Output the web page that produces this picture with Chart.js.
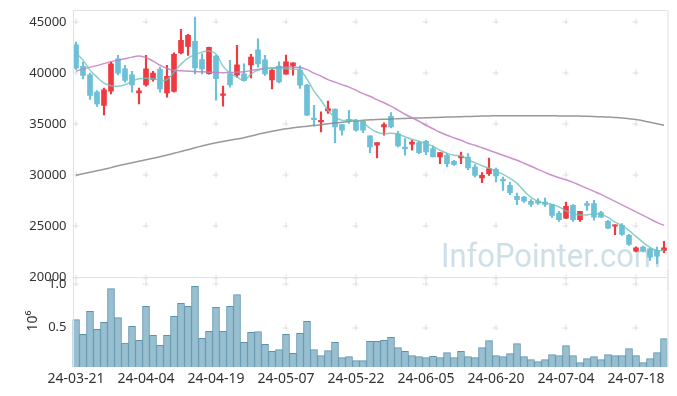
<!DOCTYPE html>
<html><head><meta charset="utf-8">
<script src="https://cdn.jsdelivr.net/npm/chart.js@4.4.1/dist/chart.umd.min.js"></script>
<style>
html,body{margin:0;padding:0;background:#fff;}
#wrap{position:relative;width:677px;height:396px;overflow:hidden;}
#c1{position:absolute;left:0;top:0;}
#c2{position:absolute;left:0;top:270px;}
</style></head>
<body><div id="wrap"><canvas id="c1" width="677" height="290"></canvas><canvas id="c2" width="677" height="126"></canvas></div>
<script>
const dates = ['24-03-21','24-03-22','24-03-25','24-03-26','24-03-27','24-03-28','24-03-29','24-04-01','24-04-02','24-04-03',
'24-04-04','24-04-05','24-04-08','24-04-09','24-04-11','24-04-12','24-04-15','24-04-16','24-04-17','24-04-18',
'24-04-19','24-04-22','24-04-23','24-04-24','24-04-25','24-04-26','24-04-29','24-04-30','24-05-02','24-05-03',
'24-05-07','24-05-08','24-05-09','24-05-10','24-05-13','24-05-14','24-05-16','24-05-17','24-05-20','24-05-21',
'24-05-22','24-05-23','24-05-24','24-05-27','24-05-28','24-05-29','24-05-30','24-05-31','24-06-03','24-06-04',
'24-06-05','24-06-07','24-06-10','24-06-11','24-06-12','24-06-13','24-06-14','24-06-17','24-06-18','24-06-19',
'24-06-20','24-06-21','24-06-24','24-06-25','24-06-26','24-06-27','24-06-28','24-07-01','24-07-02','24-07-03',
'24-07-04','24-07-05','24-07-08','24-07-09','24-07-10','24-07-11','24-07-12','24-07-15','24-07-16','24-07-17',
'24-07-18','24-07-19','24-07-22','24-07-23','24-07-24'];

const openP = [42770,40660,39830,38140,36833,38235,41402,40420,39830,38069,
38853,39383,40363,38069,38206,41990,42618,43108,41333,39950,
41667,37814,39931,39833,39931,40814,42285,41304,39343,40686,
39902,40716,40294,38824,35600,35225,36304,36471,34970,35490,
35392,35294,33853,32941,34735,35784,34088,32775,33039,33206,
33333,32618,31794,31961,31373,31696,31794,30814,29735,30167,
30588,29608,29020,27941,27873,27451,27480,27382,27128,26304,
25814,27059,25657,27225,27225,26343,25490,25029,25098,24118,
22578,22971,22814,22647,22647];

const highP = [43040,41080,40000,38300,38530,41078,41735,40755,40167,38530,
41735,40167,40588,40755,41990,44284,43794,45490,41892,42550,
41765,38725,41245,42716,40900,41833,43363,41735,40422,41108,
41765,41010,40716,38900,36860,36206,37255,36471,34970,36373,
35490,35294,33853,33206,35128,36147,34314,33598,33431,33333,
33431,32873,32225,32128,31471,32284,32128,31049,30265,31696,
30716,29833,29343,28265,27941,27618,27716,27775,27157,26471,
27382,27128,26471,27451,27549,26471,25588,25167,25265,24216,
22990,23069,22880,22971,23529];

const lowP = [40360,39440,37420,36735,35910,37970,39833,39120,38137,36990,
38725,39216,38137,37647,38137,41892,41735,39931,39931,39900,
37353,36765,38627,39608,39216,39540,40588,39775,38461,39049,
39902,39804,38500,35850,34830,34245,36049,33206,33922,35069,
34314,34186,32225,31696,33922,34637,32775,31961,32451,32128,
32030,31794,31147,30814,30980,31147,30559,29833,29284,30000,
29343,28529,28108,27128,27353,26961,27157,26961,25882,25490,
25755,25490,25490,26569,25618,25912,24775,24186,24118,23137,
22500,22500,21667,21343,22422];

const closeP = [40490,39775,37815,36990,38363,40912,40000,39285,38853,38265,
40422,40000,38461,39677,41833,43206,43696,40520,40422,42530,
39461,37970,38853,40814,39285,41569,40912,39931,40265,39147,
41108,41010,38824,35882,35450,35392,36539,34735,34412,35324,
34412,34412,32775,33206,34970,34735,32873,32618,33265,32225,
32284,31794,32225,31147,31049,31892,30716,30000,30000,30657,
29931,29441,28304,27618,27480,27157,27284,27157,26078,25657,
26961,25657,26471,27059,25912,25912,24833,25167,24216,23235,
22912,22578,21990,22088,22912];

const ma5 = [41961,41275,40294,39608,39020,38775,38725,38872,39216,39461,
39510,39461,39314,39363,40098,40882,41471,41814,42059,42157,
41863,40686,40000,39608,39314,39902,40294,40441,40441,40441,
40441,40392,40294,39412,38235,37353,36373,35686,35392,35392,
35392,35196,34608,34216,34069,34118,34020,33775,33529,33333,
33088,32843,32451,32157,31961,31912,31520,31225,30931,30686,
30392,30098,29706,29216,28480,27843,27451,27284,27157,26912,
26520,26275,26128,26128,26226,26176,25882,25422,25098,24608,
24020,23431,22941,22647,22647];

const ma20 = [40196,40392,40588,40735,40931,41127,41275,41402,41569,41667,
41520,41177,40784,40461,40294,40225,40196,40167,40127,40098,
40069,40049,40069,40098,40147,40245,40363,40461,40520,40559,
40588,40588,40559,40343,40000,39706,39363,39118,38873,38627,
38333,37990,37745,37402,37108,36765,36373,35980,35637,35294,
34902,34559,34216,33922,33676,33431,33137,32941,32696,32451,
32206,31961,31716,31471,31177,30882,30588,30294,30000,29755,
29559,29314,29020,28725,28431,28137,27794,27451,27108,26765,
26422,26078,25735,25392,25098];

const ma120 = [30000,30147,30294,30441,30588,30755,30931,31078,31225,31373,
31520,31667,31814,31980,32157,32333,32510,32696,32873,33039,
33186,33314,33431,33549,33686,33843,34020,34167,34314,34431,
34549,34647,34735,34804,34882,34951,35049,35118,35196,35275,
35343,35392,35441,35471,35490,35510,35539,35559,35588,35608,
35627,35657,35676,35696,35716,35735,35755,35775,35794,35814,
35824,35833,35833,35833,35833,35833,35833,35824,35824,35814,
35814,35804,35794,35784,35765,35735,35696,35657,35608,35539,
35461,35343,35196,35049,34902];

const volume = [592000,424000,687000,481000,561000,947000,615000,324000,515000,355000,
745000,412000,298000,412000,630000,779000,745000,974000,378000,458000,
733000,458000,745000,878000,332000,447000,455000,309000,229000,248000,
424000,206000,435000,573000,248000,180000,237000,332000,157000,168000,
122000,122000,344000,344000,355000,389000,271000,229000,180000,168000,
157000,172000,157000,214000,157000,229000,168000,157000,271000,351000,
180000,168000,202000,317000,168000,134000,111000,134000,191000,180000,
294000,180000,100000,145000,168000,134000,191000,180000,180000,260000,
180000,100000,145000,214000,374000];

const priceTicks = [20000,25000,30000,35000,40000,45000];
const volTicks = [500000,1000000];
const volTitle = '10⁶';
const watermark = 'InfoPointer.com';

const UP = '#ee3a40', DOWN = '#6cc0d8';
const candleColors = closeP.map((c,i)=> c >= openP[i] ? UP : DOWN);
const wicks = dates.map((d,i)=>[lowP[i], highP[i]]);
const bodies = dates.map((d,i)=>[Math.min(openP[i],closeP[i]), Math.max(openP[i],closeP[i])]);

const FONT = 'Noto Sans';
const LEFT_W = 72.5;
const PAD_R = 9.5;

function fixAxis(s){ s.width = LEFT_W; s.paddingTop = 0; s.paddingBottom = 0; s.paddingLeft = 0; s.paddingRight = 0; }

function plus(ctx, x, y){
  ctx.beginPath();
  ctx.moveTo(x-3, y+0.5); ctx.lineTo(x+3, y+0.5);
  ctx.moveTo(x+0.5, y-3); ctx.lineTo(x+0.5, y+3);
  ctx.stroke();
}

const frame1 = {
  id:'frame1',
  beforeDatasetsDraw(chart){
    const {ctx, chartArea:a, scales:{x,y}} = chart;
    ctx.save();
    ctx.font = '33px Roboto';
    ctx.fillStyle = 'rgba(165,196,214,0.55)';
    ctx.textBaseline = 'alphabetic';
    ctx.fillText(watermark, 441, 267, 220);
    ctx.strokeStyle = '#dedede';
    ctx.lineWidth = 1;
    for (let i=0;i<dates.length;i+=10){
      const px = Math.round(x.getPixelForValue(i))-0.5;
      priceTicks.forEach(t=>plus(ctx, px, Math.round(y.getPixelForValue(t))-0.5));
    }
    ctx.restore();
  },
  afterDraw(chart){
    const {ctx, chartArea:a} = chart;
    ctx.save();
    ctx.strokeStyle = '#e2e2e2';
    ctx.lineWidth = 1;
    ctx.beginPath();
    ctx.moveTo(a.left, a.top+0.5); ctx.lineTo(a.right, a.top+0.5);
    ctx.moveTo(a.right+0.5, a.top); ctx.lineTo(a.right+0.5, 290);
    ctx.moveTo(73.5, a.top); ctx.lineTo(73.5, 290);
    ctx.moveTo(a.left, a.bottom); ctx.lineTo(a.right, a.bottom);
    ctx.stroke();
    ctx.restore();
  }
};

const frame2 = {
  id:'frame2',
  beforeDatasetsDraw(chart){
    const {ctx, chartArea:a, scales:{x,y}} = chart;
    ctx.save();
    ctx.strokeStyle = '#dedede';
    ctx.lineWidth = 1;
    for (let i=0;i<dates.length;i+=10){
      const px = Math.round(x.getPixelForValue(i))-0.5;
      volTicks.forEach(t=>plus(ctx, px, Math.round(y.getPixelForValue(t))-0.5));
    }
    ctx.restore();
  },
  afterDraw(chart){
    const {ctx, chartArea:a} = chart;
    ctx.save();
    ctx.strokeStyle = '#e2e2e2';
    ctx.lineWidth = 1;
    ctx.beginPath();
    ctx.moveTo(a.right+0.5, 0); ctx.lineTo(a.right+0.5, a.bottom);
    ctx.moveTo(73.5, 0); ctx.lineTo(73.5, a.bottom);
    ctx.stroke();
    ctx.fillStyle = '#333';
    ctx.font = '14px "' + FONT + '"';
    ctx.translate(33, 321-270);
    ctx.rotate(-Math.PI/2);
    ctx.textAlign = 'center';
    ctx.textBaseline = 'middle';
    ctx.fillText(volTitle, 0, 0);
    ctx.restore();
  }
};

new Chart(document.getElementById('c1'), {
  type: 'bar',
  data: {
    labels: dates,
    datasets: [
      {type:'line', data: ma5, borderColor:'rgba(110,195,185,0.8)', borderWidth:1.5, pointRadius:0, tension:0.4, order:0},
      {type:'line', data: ma20, borderColor:'rgba(195,125,195,0.85)', borderWidth:1.5, pointRadius:0, tension:0.4, order:0},
      {type:'line', data: ma120, borderColor:'rgba(135,135,135,0.85)', borderWidth:1.5, pointRadius:0, tension:0.4, order:0},
      {data: wicks, backgroundColor: candleColors, barThickness:1.5, grouped:false, order:2},
      {data: bodies, backgroundColor: candleColors, barThickness:5, grouped:false, order:1}
    ]
  },
  options: {
    responsive:false, animation:false, devicePixelRatio:1,
    layout:{padding:{top:10, right:PAD_R, bottom:12.5, left:0}},
    plugins:{legend:{display:false}, tooltip:{enabled:false}},
    scales:{
      x:{type:'category', offset:true, display:false, grid:{display:false}},
      y:{min:20000, max:46180,
         afterFit: fixAxis,
         afterBuildTicks(s){ s.ticks = priceTicks.map(v=>({value:v})); },
         grid:{display:false, drawTicks:false}, border:{display:false},
         ticks:{color:'#333', padding:6, font:{family:FONT, size:13}, callback:v=>String(v)}}
    }
  },
  plugins:[frame1]
});

new Chart(document.getElementById('c2'), {
  type: 'bar',
  data: {
    labels: dates,
    datasets: [
      {data: volume, backgroundColor:'rgba(151,191,208,1)', borderColor:'rgba(92,146,172,1)', borderWidth:1, barPercentage:1, categoryPercentage:1}
    ]
  },
  options: {
    responsive:false, animation:false, devicePixelRatio:1,
    layout:{padding:{top:8, right:PAD_R, bottom:0, left:0}},
    plugins:{legend:{display:false}, tooltip:{enabled:false}},
    scales:{
      x:{type:'category', offset:true, grid:{display:false, drawTicks:false}, border:{display:false},
         afterFit(s){ s.height = 29; s.paddingLeft = 0; s.paddingRight = 0; },
         ticks:{autoSkip:false, maxRotation:0, minRotation:0, padding:4, color:'#333', font:{family:FONT, size:14},
           callback:(v,i)=> i%10===0 ? dates[i] : null}},
      y:{min:49000, max:1069000,
         afterFit: fixAxis,
         afterBuildTicks(s){ s.ticks = volTicks.map(v=>({value:v})); },
         grid:{display:false, drawTicks:false}, border:{display:false},
         ticks:{color:'#333', padding:6, font:{family:FONT, size:13}, callback:v=>(v/1e6).toFixed(1)}}
    }
  },
  plugins:[frame2]
});
</script>
</body></html>
